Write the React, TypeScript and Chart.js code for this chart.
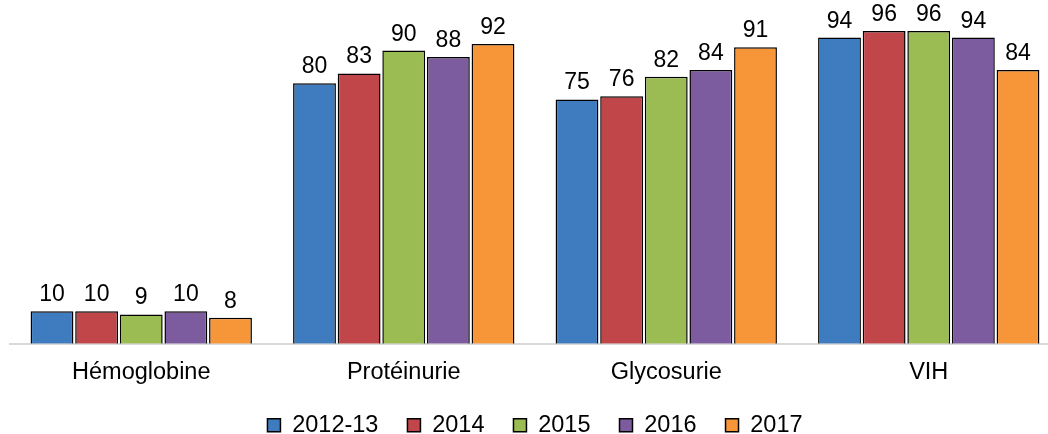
import React, { useEffect, useRef } from "react";
import { Chart, registerables } from "chart.js";

Chart.register(...registerables);

const categories = ["Hémoglobine", "Protéinurie", "Glycosurie", "VIH"];
const seriesLabels = ["2012-13", "2014", "2015", "2016", "2017"];
const values2012_13 = [10, 80, 75, 94];
const values2014 = [10, 83, 76, 96];
const values2015 = [9, 90, 82, 96];
const values2016 = [10, 88, 84, 94];
const values2017 = [8, 92, 91, 84];
const seriesValues = [values2012_13, values2014, values2015, values2016, values2017];
const seriesColors = ["#3F7CBF", "#C0464A", "#9BBB53", "#7D5B9F", "#F79539"];

const FONT = "'Liberation Sans', Arial, sans-serif";

const valueLabels = {
  id: "valueLabels",
  afterDatasetsDraw(chart: any) {
    const ctx = chart.ctx;
    ctx.save();
    ctx.font = `23px ${FONT}`;
    ctx.fillStyle = "#000";
    ctx.textAlign = "center";
    ctx.textBaseline = "alphabetic";
    chart.data.datasets.forEach((ds: any, i: number) => {
      const meta = chart.getDatasetMeta(i);
      meta.data.forEach((el: any, j: number) => {
        ctx.fillText(String(ds.data[j]), el.x, el.y - 10);
      });
    });
    ctx.restore();
  },
};

export default function App() {
  const ref = useRef<HTMLCanvasElement | null>(null);
  useEffect(() => {
    if (!ref.current) return;
    const chart = new Chart(ref.current, {
      type: "bar",
      data: {
        labels: categories,
        datasets: seriesLabels.map((label, i) => ({
          label,
          data: seriesValues[i],
          backgroundColor: seriesColors[i],
          borderColor: "#000",
          borderWidth: 1.5,
          categoryPercentage: 0.85,
          barPercentage: 0.96,
        })),
      },
      options: {
        animation: false,
        responsive: true,
        maintainAspectRatio: false,
        layout: { padding: { left: 10, right: 0, top: 18, bottom: -13 } },
        scales: {
          x: {
            grid: { display: false, drawTicks: false },
            border: { color: "#D9D9D9", width: 2 },
            ticks: { color: "#000", font: { size: 23.5, family: FONT }, padding: 15 },
            afterFit(scale: any) {
              scale.height = 40.75;
            },
          },
          y: { display: false, min: 0, max: 100 },
        },
        plugins: {
          tooltip: { enabled: false },
          legend: {
            position: "bottom",
            labels: {
              color: "#000",
              boxWidth: 13,
              boxHeight: 13,
              padding: 29,
              font: { size: 23.5, family: FONT },
            },
          },
        },
      },
      plugins: [valueLabels],
    });
    return () => chart.destroy();
  }, []);
  return (
    <div style={{ position: "absolute", left: 0, top: 0, width: 1048, height: 434, overflow: "hidden" }}>
      <div style={{ position: "absolute", left: 0, top: 0, width: 1060, height: 434 }}>
        <canvas ref={ref} />
      </div>
    </div>
  );
}
